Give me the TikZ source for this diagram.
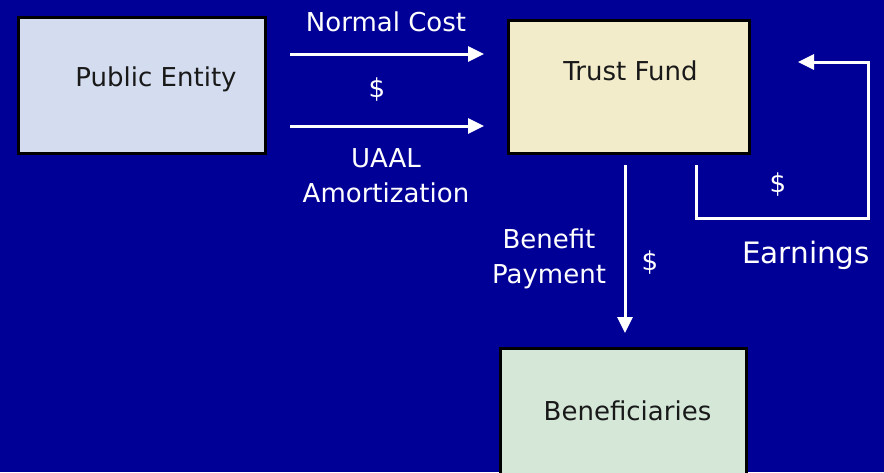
\documentclass[tikz,border=0pt]{standalone}
\usepackage{fontspec}
\setmainfont{DejaVu Sans}
\usepackage{xcolor}
\usetikzlibrary{arrows.meta}
\definecolor{slide}{HTML}{000096}
\definecolor{entity}{HTML}{D3DDEF}
\definecolor{fund}{HTML}{F2ECCA}
\definecolor{benef}{HTML}{D5E8D8}
\tikzset{
  box/.style={draw=black,line width=2.5pt,outer sep=0pt,inner sep=0pt,anchor=north west},
  flow/.style={draw=white,line width=3pt,-{Triangle[length=16pt,width=15pt]}},
  lbl/.style={text=white,anchor=base,align=center,inner sep=0pt,
    font=\fontsize{26}{35}\selectfont},
  boxtext/.style={text=black!90,anchor=base,inner sep=0pt,
    font=\fontsize{26}{31}\selectfont},
}

\begin{document}
\begin{tikzpicture}[x=1pt,y=-1pt]
\fill[slide] (0,0) rectangle (884,472);
\useasboundingbox (0,0) rectangle (884,472);
\clip (0,0) rectangle (884,472);
% boxes
\node[box,fill=entity,minimum width=247pt,minimum height=136pt] (pe) at (18.5,17.5) {};
\node[box,fill=fund,minimum width=241pt,minimum height=133pt] (tf) at (508.5,20.5) {};
\node[box,fill=benef,minimum width=246pt,minimum height=170pt] (bn) at (500.5,348.5) {};
\node[boxtext] (pe-text) at (156,86) {Public Entity};
\node[boxtext] (tf-text) at (630.5,80) {Trust Fund};
\node[boxtext] (bn-text) at (627.5,420) {Beneficiaries};
% contributions
\draw[flow,shorten <=24.5pt,shorten >=24.5pt] (pe.east |- 0,54) -- (tf.west |- 0,54);
\draw[flow,shorten <=24.5pt,shorten >=24.5pt] (pe.east |- 0,126) -- (tf.west |- 0,126);
\node[lbl] (nc) at (386,31) {Normal Cost};
\node[lbl] (nc-dollar) at (377,97) {\$};
\node[lbl] (uaal) at (386,202) {UAAL\\Amortization};
% benefit payments
\draw[flow,shorten <=11.5pt,shorten >=15.5pt] (625,0 |- tf.south) -- (625,0 |- bn.north);
\node[lbl] (bp) at (549,283) {Benefit\\Payment};
\node[lbl] (bp-dollar) at (650,270) {\$};
% earnings
\coordinate (ret) at (798,62);
\draw[flow,shorten <=11.5pt] (696,0 |- tf.south) -- (696,218) -| (868,62) -- (ret);
\node[lbl] (earn-dollar) at (778,192) {\$};
\node[lbl,font=\fontsize{29.5}{35}\selectfont] (earn) at (806,263) {Earnings};
\end{tikzpicture}
\end{document}
